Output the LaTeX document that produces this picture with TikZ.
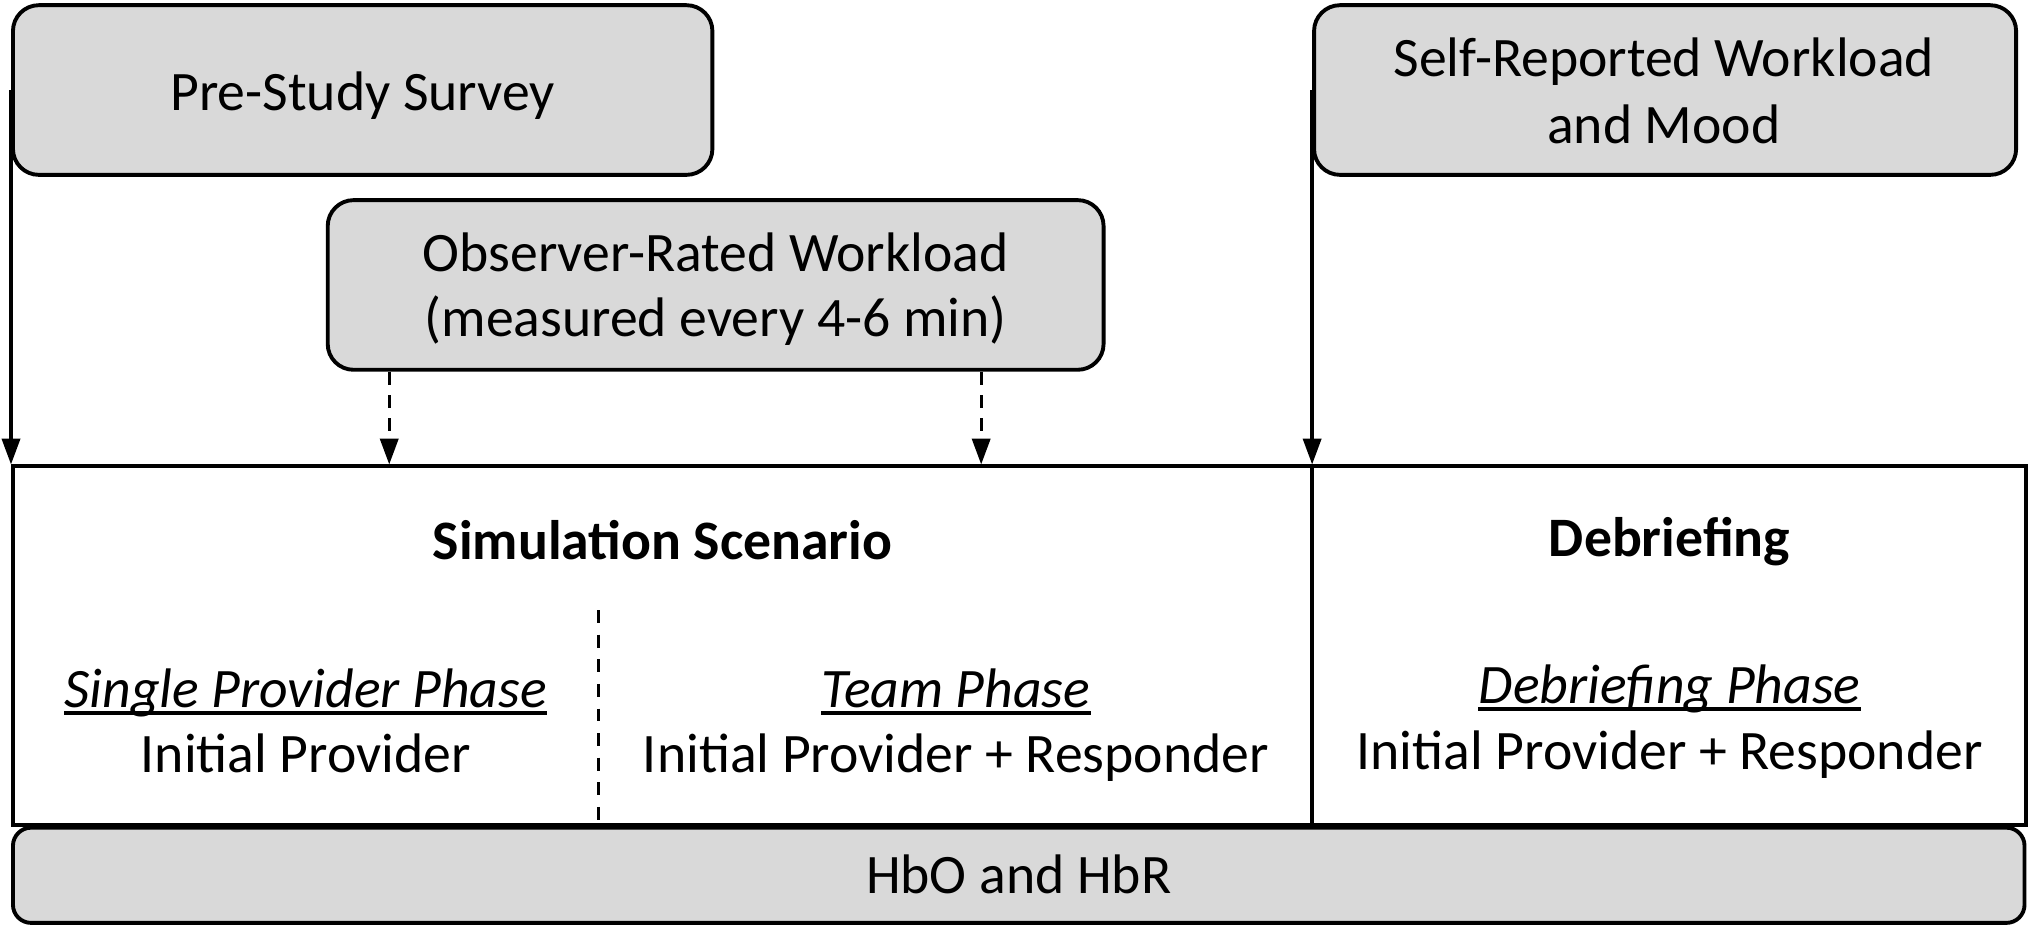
\documentclass[tikz,border=0pt]{standalone}
\usepackage{fontspec}
\setmainfont{Carlito}
\usetikzlibrary{arrows.meta}
\definecolor{boxgray}{HTML}{D9D9D9}
\begin{document}
\begin{tikzpicture}[x=0.5pt,y=-0.5pt,
  box/.style={draw, line width=1.5pt, fill=boxgray, rounded corners=10pt, inner sep=0pt},
  frame/.style={draw, line width=1.4pt, inner sep=0pt},
  txt/.style={anchor=base, inner sep=0pt, font=\fontsize{21.5}{25.5}\selectfont},
  link/.style={line width=1.3pt, -{Triangle[length=10pt,width=7pt]}},
  dlink/.style={link, dash pattern=on 5pt off 4pt},
  divider/.style={line width=1.3pt, dash pattern=on 5pt off 4.5pt},
  uline/.style={line width=1.5pt}]
\useasboundingbox (0,0) rectangle (1568,717);
% main frame and bar
\node[frame, minimum width=777pt, minimum height=138.5pt] (main) at (787,498.5) {};
\node[box, rounded corners=7pt, minimum width=776.5pt, minimum height=36.75pt] (hb) at (786.5,675.75) {};
% top boxes
\node[box, minimum width=270pt, minimum height=65.5pt] (pre) at (280,69.5) {};
\node[box, minimum width=271pt, minimum height=65.5pt] (self) at (1285.5,69.5) {};
\node[box, minimum width=299.5pt, minimum height=65.5pt] (obs) at (552.5,220) {};
% connectors
\draw[link] (pre.west) -- (pre.west |- main.north);
\draw[link] (self.west) -- (self.west |- main.north);
\path (obs.south west) ++(49,0) coordinate (d1);
\path (obs.south west) ++(506,0) coordinate (d2);
\draw[dlink] (d1) -- (d1 |- main.north);
\draw[dlink] (d2) -- (d2 |- main.north);
% dividers
\draw[line width=1.4pt] (self.west |- main.north) -- (self.west |- main.south);
\coordinate (dv) at (462,471);
\draw[divider] (dv) -- (dv |- main.south);
% texts
\node[txt] (pretxt) at (280,85) {Pre-Study Survey};
\node[txt] (self1) at (1284.5,59) {Self-Reported Workload};
\node[txt] (self2) at (1284.5,111) {and Mood};
\node[txt] (obs1) at (552.5,209.5) {Observer-Rated Workload};
\node[txt] (obs2) at (552.5,259.5) {(measured every 4-6 min)};
\node[txt, font=\fontsize{21.5}{25.5}\selectfont\bfseries] (sim) at (511.5,432) {Simulation Scenario};
\node[txt, font=\fontsize{21.5}{25.5}\selectfont\bfseries] (deb) at (1289,430) {Debriefing};
\node[txt] (sp1) at (236,546) {\textit{Single Provider Phase}};
\node[txt] (sp2) at (236,596.5) {Initial Provider};
\node[txt] (tp1) at (738,546) {\textit{Team Phase}};
\node[txt] (tp2) at (738,596.5) {Initial Provider + Responder};
\node[txt] (dp1) at (1289,543) {\textit{Debriefing Phase}};
\node[txt] (dp2) at (1289,594) {Initial Provider + Responder};
\node[txt] (hbtxt) at (786.5,690) {HbO and HbR};
% underlines
\draw[uline] ([yshift=-2.25pt]sp1.base west) -- ([yshift=-2.25pt]sp1.base east);
\draw[uline] ([yshift=-2.25pt]tp1.base west) -- ([yshift=-2.25pt]tp1.base east);
\draw[uline] ([yshift=-2.25pt]dp1.base west) -- ([yshift=-2.25pt]dp1.base east);
\end{tikzpicture}
\end{document}
